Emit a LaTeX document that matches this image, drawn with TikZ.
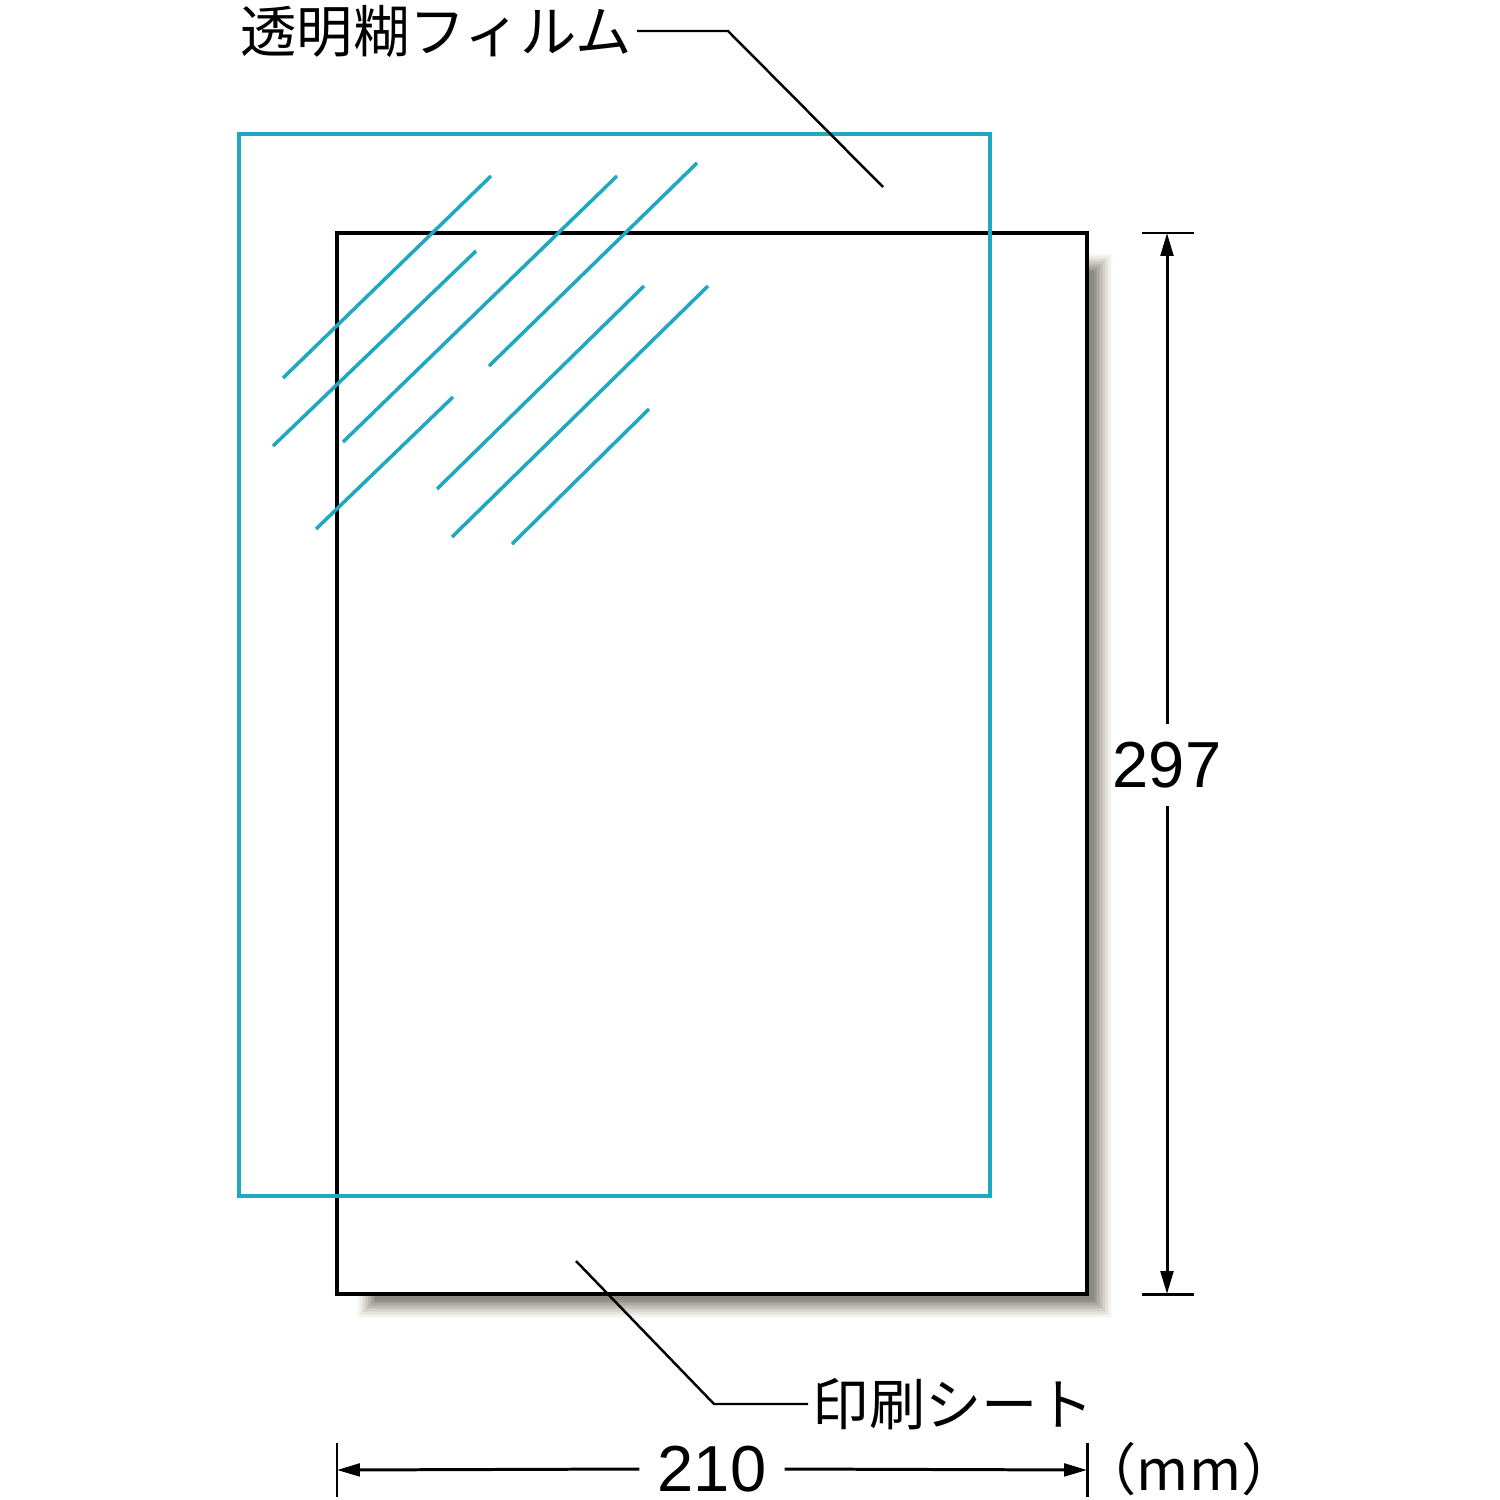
\documentclass[tikz,border=0pt]{standalone}
\usepackage{fontspec}
\setmainfont{Liberation Sans}
\newfontfamily\jpfont{Noto Sans CJK JP}
\usetikzlibrary{arrows.meta}

\definecolor{filmcyan}{RGB}{32,168,192}
\definecolor{shadowtan}{RGB}{238,235,224}
\definecolor{shadowgray}{RGB}{105,105,98}

\begin{document}
\begin{tikzpicture}[x=0.01cm,y=-0.01cm,
    filmline/.style={draw=filmcyan, line width=1pt},
    sheetline/.style={draw=black, line width=0.9pt, fill=white},
    leader/.style={draw=black, line width=0.7pt},
    dimline/.style={draw=black, line width=0.85pt},
    dimtip/.style={dimline, -{Triangle[length=6.5pt,width=3.6pt]}},
    callout/.style={font=\jpfont\fontsize{16}{16}\selectfont, inner sep=1.2pt},
    dimtext/.style={font=\fontsize{18.5}{18.5}\selectfont, inner sep=5pt}]

  \useasboundingbox (0,0) rectangle (1500,1500);

  % corners of the two sheets
  \coordinate (sheet-nw) at (337,233);
  \coordinate (sheet-se) at (1087,1294);
  \coordinate (film-nw) at (239,134);
  \coordinate (film-se) at (990,1196);

  % soft shadow under the print sheet
  \foreach \k [evaluate=\k as \pct using int(\k*8)] in {0,...,12}
    \fill[shadowgray!\pct!shadowtan, opacity=0.25]
      (357+1.5*\k,253+1.5*\k) rectangle (1112-1.5*\k,1318-1.5*\k);

  \path[sheetline] (sheet-nw) rectangle (sheet-se);

  % film with glare strokes
  \draw[filmline] (film-nw) rectangle (film-se);
  \foreach \xa/\ya/\xb/\yb in {283/378/491/176, 273/446/476/251,
      343/442/617/176, 489/366/697/163, 316/529/453/397,
      437/489/644/286, 452/537/708/286, 512/544/649/409}
    \draw[filmline] (\xa,\ya) -- (\xb,\yb);

  % callouts
  \node[callout, anchor=east] (filmtag) at (637,31) {透明糊フィルム};
  \coordinate (filmbend) at (728,31);
  \coordinate (filmtip) at (883,187);
  \draw[leader] (filmtag.east) -- (filmbend) -- (filmtip);

  \node[callout, anchor=west] (sheettag) at (808,1404) {印刷シート};
  \coordinate (sheetbend) at (714,1404);
  \coordinate (sheettip) at (576,1261);
  \draw[leader] (sheettag.west) -- (sheetbend) -- (sheettip);

  % height
  \coordinate (htop) at (1167,233);
  \coordinate (hbot) at (1167,1294);
  \node[dimtext] (h297) at (1167,765) {297};
  \draw[dimline] (htop) +(-25,0) -- +(27,0);
  \draw[dimline] (hbot) +(-25,0) -- +(27,0);
  \draw[dimtip] (h297.north) -- (htop);
  \draw[dimtip] (h297.south) -- (hbot);

  % width
  \coordinate (wleft) at (337,1470);
  \coordinate (wright) at (1087,1470);
  \node[dimtext] (w210) at (712,1469) {210};
  \draw[dimline] (wleft) +(0,-27) -- +(0,27);
  \draw[dimline] (wright) +(0,-27) -- +(0,27);
  \draw[dimtip] (w210.west) -- (wleft);
  \draw[dimtip] (w210.east) -- (wright);
  \node[font=\jpfont\fontsize{16}{16}\selectfont, inner sep=0pt, anchor=west]
    (unit) at (1080,1469) {（mm）};
\end{tikzpicture}
\end{document}
